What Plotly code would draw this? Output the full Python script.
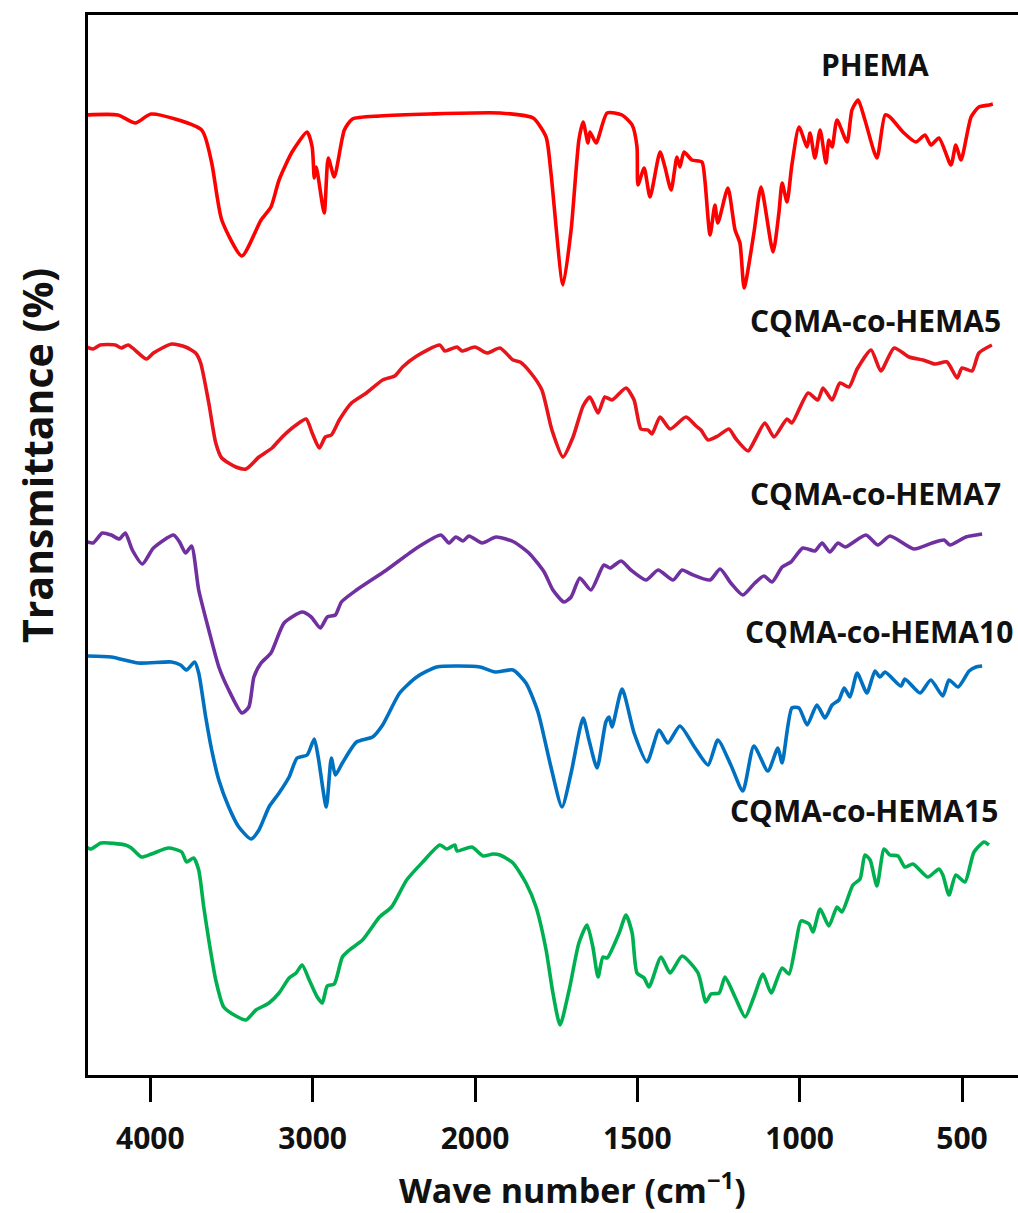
import plotly.graph_objects as go

# FTIR spectra, stacked (transmittance offset per sample, arbitrary units)
PHEMA_WN = [4400, 4200, 4092, 3995, 3684, 3622, 3560, 3436, 3318, 3257,
            3207, 3127, 3034, 3003, 2990, 2978, 2929, 2904, 2867, 2805,
            2755, 2588, 2279, 1923, 1821, 1781, 1766, 1729, 1704, 1680,
            1667, 1652, 1646, 1627, 1593, 1547, 1516, 1501, 1498, 1479,
            1461, 1430, 1415, 1396, 1378, 1369, 1356, 1332, 1301, 1292,
            1276, 1261, 1252, 1221, 1199, 1184, 1171, 1141, 1119, 1082,
            1064, 1054, 1039, 1024, 1002, 977, 968, 953, 937, 919,
            910, 900, 885, 854, 839, 820, 799, 762, 737, 722,
            682, 642, 614, 596, 571, 534, 519, 503, 472, 448,
            417, 405]
PHEMA_T = [96.0, 96.0, 95.2, 96.1, 94.5, 91.2, 85.5, 81.9, 85.5, 86.8,
           89.5, 92.3, 94.3, 92.8, 89.7, 90.8, 86.2, 91.7, 89.8, 94.5,
           95.6, 95.9, 96.1, 96.2, 95.7, 93.8, 90.2, 79.0, 84.5, 93.5,
           95.3, 93.2, 94.3, 93.2, 96.2, 96.0, 95.0, 92.8, 89.0, 90.7,
           87.8, 92.3, 90.8, 88.5, 91.8, 90.8, 92.3, 91.5, 91.3, 89.5,
           84.0, 87.0, 85.2, 88.7, 84.5, 83.2, 78.7, 84.2, 88.8, 82.3,
           86.2, 89.2, 87.3, 91.0, 94.8, 92.8, 94.2, 91.7, 94.5, 91.2,
           93.5, 92.8, 95.5, 93.3, 96.5, 97.5, 95.5, 91.7, 96.0, 95.8,
           94.3, 93.3, 94.0, 93.0, 93.7, 91.0, 93.0, 91.5, 95.8, 96.8,
           97.0, 97.1]

HEMA5_WN = [4396, 4352, 4309, 4216, 4179, 4136, 4024, 3981, 3869, 3783,
            3721, 3690, 3640, 3597, 3560, 3473, 3411, 3331, 3250, 3188,
            3102, 3040, 3003, 2959, 2922, 2885, 2836, 2761, 2669, 2569,
            2495, 2446, 2359, 2217, 2186, 2111, 2080, 2000,
            1963, 1923, 1883, 1861, 1828, 1794, 1763, 1729, 1698, 1667,
            1646, 1621, 1600, 1578, 1535, 1510, 1489, 1467, 1455, 1430,
            1399, 1350, 1319, 1304, 1282, 1252, 1218, 1196, 1159, 1138,
            1107, 1079, 1039, 1024, 974, 944, 928, 900, 876, 848,
            823, 780, 750, 709, 663, 620, 583, 546, 515, 500,
            469, 448, 408]
HEMA5_T = [72.8, 72.6, 73.0, 73.0, 72.7, 73.0, 71.6, 72.2, 73.1, 72.8,
           72.2, 71.2, 67.2, 63.2, 61.7, 60.8, 60.6, 61.8, 62.7, 63.8,
           65.0, 65.6, 64.2, 62.7, 63.8, 64.0, 65.5, 67.2, 68.2, 69.5,
           69.9, 70.8, 71.9, 73.0, 72.4, 72.8, 72.4, 72.8,
           72.2, 72.7, 71.5, 71.3, 70.2, 68.5, 64.5, 61.8, 63.8, 66.9,
           67.8, 66.2, 67.8, 67.5, 68.7, 67.5, 64.6, 64.5, 64.1, 65.8,
           64.6, 65.8, 64.9, 64.5, 63.5, 63.9, 64.6, 63.6, 62.4, 63.5,
           65.2, 63.8, 65.6, 65.2, 68.2, 67.5, 68.7, 67.5, 69.2, 68.8,
           70.6, 72.5, 70.4, 72.7, 71.8, 71.5, 71.1, 71.3, 69.7, 70.7,
           70.4, 72.2, 73.0]

HEMA7_WN = [4389, 4352, 4296, 4241, 4191, 4154, 4111, 4049, 3981, 3857,
            3820, 3783, 3746, 3702, 3640, 3578, 3517, 3436, 3393, 3362,
            3318, 3257, 3176, 3065, 3009, 2953, 2910, 2860, 2823, 2730,
            2545, 2359, 2210, 2161, 2118, 2074, 2037, 1978, 1935, 1880,
            1834, 1787, 1760, 1726, 1704, 1677, 1643, 1603, 1584, 1550,
            1520, 1473, 1436, 1390, 1362, 1335, 1276, 1245, 1212, 1175,
            1138, 1110, 1085, 1054, 1027, 990, 953, 931, 907, 882,
            860, 796, 759, 722, 648, 592, 555, 537, 488, 438]
HEMA7_T = [53.3, 53.2, 54.2, 54.0, 53.6, 54.2, 52.5, 51.1, 52.7, 54.0,
           53.3, 52.2, 52.9, 48.5, 44.5, 40.8, 38.5, 36.2, 36.8, 39.8,
           41.2, 42.2, 45.2, 46.3, 45.8, 44.7, 45.8, 46.0, 47.3, 48.5,
           50.5, 52.7, 54.0, 53.2, 53.8, 53.4, 53.9, 53.2, 53.8, 53.3,
           52.2, 50.3, 48.5, 47.3, 47.8, 49.7, 48.5, 51.0, 50.7, 51.4,
           50.5, 49.5, 50.5, 49.5, 50.5, 50.1, 49.5, 50.6, 49.2, 48.0,
           49.2, 49.9, 49.3, 50.8, 51.3, 52.7, 52.4, 53.2, 52.3, 53.2,
           52.8, 54.0, 53.0, 53.9, 52.6, 53.2, 53.5, 53.0, 53.8, 54.1]

HEMA10_WN = [4396, 4241, 4074, 3869, 3814, 3777, 3727, 3702, 3659, 3622,
             3578, 3517, 3455, 3380, 3331, 3269, 3207, 3145, 3096, 3034,
             2990, 2966, 2916, 2885, 2860, 2817, 2730, 2631, 2569, 2464,
             2359, 2235, 1985, 1938, 1883, 1843, 1806, 1769, 1732, 1704,
             1667, 1649, 1624, 1597, 1587, 1578, 1547, 1510, 1470, 1433,
             1406, 1369, 1322, 1282, 1252, 1212, 1175, 1141, 1098, 1067,
             1054, 1024, 1002, 977, 947, 922, 900, 879, 863, 845,
             823, 793, 768, 753, 737, 688, 676, 629, 596, 559,
             540, 512, 478, 457, 438]
HEMA10_T = [41.9, 41.8, 41.2, 41.3, 41.0, 40.5, 41.3, 40.2, 35.8, 32.5,
            29.5, 26.8, 24.8, 23.6, 24.5, 26.8, 28.2, 29.8, 31.7, 32.0,
            33.6, 31.8, 26.8, 31.7, 30.0, 31.2, 33.3, 33.8, 35.0, 38.2,
            39.8, 40.8, 40.8, 40.3, 40.5, 39.2, 36.3, 31.2, 26.8, 30.2,
            35.7, 33.5, 30.7, 35.3, 35.8, 34.8, 38.6, 34.2, 31.3, 34.5,
            33.2, 34.9, 32.7, 31.0, 33.5, 31.0, 28.4, 32.9, 30.4, 32.7,
            31.2, 36.7, 36.7, 35.0, 37.0, 35.7, 37.0, 37.5, 38.7, 37.8,
            40.2, 38.2, 40.4, 39.8, 40.3, 38.9, 39.6, 38.2, 39.5, 37.9,
            39.5, 38.8, 40.4, 40.8, 40.9]

HEMA15_WN = [4396, 4365, 4303, 4154, 4117, 4055, 3993, 3888, 3807, 3777,
             3733, 3702, 3671, 3640, 3597, 3548, 3473, 3411, 3349, 3269,
             3207, 3145, 3102, 3065, 3021, 2972, 2941, 2910, 2867, 2817,
             2774, 2693, 2588, 2514, 2421, 2322, 2217, 2173, 2124, 2111,
             2019, 1975, 1945, 1923, 1883, 1843, 1812, 1781, 1760, 1738,
             1710, 1680, 1655, 1637, 1621, 1606, 1593, 1556, 1535, 1516,
             1501, 1479, 1464, 1427, 1399, 1362, 1313, 1289, 1273, 1248,
             1230, 1199, 1168, 1141, 1113, 1088, 1054, 1033, 1011, 996,
             971, 959, 937, 910, 885, 870, 836, 814, 799, 783,
             762, 740, 722, 697, 676, 651, 605, 571, 559, 540,
             519, 491, 463, 432, 417]
HEMA15_T = [22.8, 22.6, 23.2, 23.0, 22.7, 21.8, 22.1, 22.7, 22.3, 21.3,
            21.7, 20.5, 16.8, 13.5, 9.5, 6.8, 5.9, 5.5, 6.5, 7.2,
            8.2, 9.7, 10.2, 11.0, 9.5, 7.8, 7.2, 8.9, 9.1, 11.8,
            12.5, 13.5, 15.8, 16.8, 19.5, 21.3, 23.0, 22.6, 23.0, 22.4,
            22.8, 21.9, 22.1, 22.0, 21.2, 19.2, 16.8, 12.5, 8.2, 5.0,
            8.5, 13.2, 15.0, 12.8, 9.8, 11.8, 11.7, 14.2, 16.0, 14.2,
            10.2, 9.7, 8.8, 11.8, 10.2, 11.9, 10.2, 7.3, 8.1, 8.2,
            9.8, 7.8, 5.8, 7.8, 10.1, 8.2, 10.7, 10.1, 13.3, 15.4,
            15.1, 14.3, 16.6, 14.9, 16.8, 16.3, 19.0, 19.6, 22.0, 21.5,
            18.9, 22.6, 22.0, 21.9, 20.8, 21.1, 19.8, 20.6, 20.0, 18.0,
            20.0, 19.3, 22.3, 23.3, 23.0]

SERIES_NAMES = ["PHEMA", "CQMA-co-HEMA5", "CQMA-co-HEMA7",
                "CQMA-co-HEMA10", "CQMA-co-HEMA15"]
SERIES_COLORS = ["#FF0000", "#E8141B", "#7030A0", "#0070C0", "#00B050"]
TICK_WN = [4000, 3000, 2000, 1500, 1000, 500]

series = [(PHEMA_WN, PHEMA_T), (HEMA5_WN, HEMA5_T), (HEMA7_WN, HEMA7_T),
          (HEMA10_WN, HEMA10_T), (HEMA15_WN, HEMA15_T)]
for wn, t in series:
    assert len(wn) == len(t)


def to_axis(w):
    """Scale change at 2000 cm-1: the region above is compressed by half."""
    return w if w <= 2000 else 2000 + (w - 2000) / 2.0


FONT = "Open Sans"
INK = "#111111"

fig = go.Figure()
for (wn, t), name, color in zip(series, SERIES_NAMES, SERIES_COLORS):
    fig.add_trace(go.Scatter(
        x=[to_axis(w) for w in wn], y=t, mode="lines", name=name,
        line=dict(color=color, width=3.6, shape="spline", smoothing=0.6),
        showlegend=False, hoverinfo="skip"))

# plot area spans 88..1018 px horizontally, 15..1075 px vertically
PLOT_L, PLOT_W, PLOT_B, PLOT_H = 88, 930, 1075, 1060


def px_x(p):
    return (p - PLOT_L) / PLOT_W


def px_y(p):
    return (PLOT_B - p) / PLOT_H


label_pos = [  # (x px, y px, anchor)
    (875, 65, "center"),
    (1003, 320, "right"),
    (1003, 493, "right"),
    (1015, 632, "right"),
    (1000, 810, "right"),
]
annotations = []
for name, (xp, yp, anc) in zip(SERIES_NAMES, label_pos):
    annotations.append(dict(
        text=f"<b>{name}</b>", xref="paper", yref="paper",
        x=px_x(xp), y=px_y(yp), xanchor=anc, yanchor="middle",
        showarrow=False, font=dict(family=FONT, size=30, color=INK)))

annotations.append(dict(
    text="<b>Wave number (cm<sup>\u22121</sup>)</b>", xref="paper", yref="paper",
    x=px_x(572), y=px_y(1188), xanchor="center", yanchor="middle",
    showarrow=False, font=dict(family=FONT, size=34, color=INK)))
annotations.append(dict(
    text="<b>Transmittance (%)</b>", xref="paper", yref="paper",
    x=px_x(37), y=px_y(456), xanchor="center", yanchor="middle",
    textangle=-90, showarrow=False,
    font=dict(family=FONT, size=41, color=INK)))

fig.update_layout(
    width=1018, height=1213,
    margin=dict(l=PLOT_L, r=0, t=15, b=1213 - PLOT_B),
    paper_bgcolor="white", plot_bgcolor="white",
    annotations=annotations,
    xaxis=dict(
        range=[to_axis(4384), 327.5],
        tickvals=[to_axis(w) for w in TICK_WN],
        ticktext=[str(w) for w in TICK_WN],
        ticks="outside", ticklen=24, tickwidth=3, tickcolor="black",
        ticklabelstandoff=11,
        tickfont=dict(family=FONT, size=30, color=INK, weight="bold"),
        showline=True, linewidth=3, linecolor="black", mirror=True,
        showgrid=False, zeroline=False),
    yaxis=dict(
        range=[0, 106], showticklabels=False, ticks="",
        showline=True, linewidth=3, linecolor="black",
        showgrid=False, zeroline=False),
)

fig.write_html("out.html")
